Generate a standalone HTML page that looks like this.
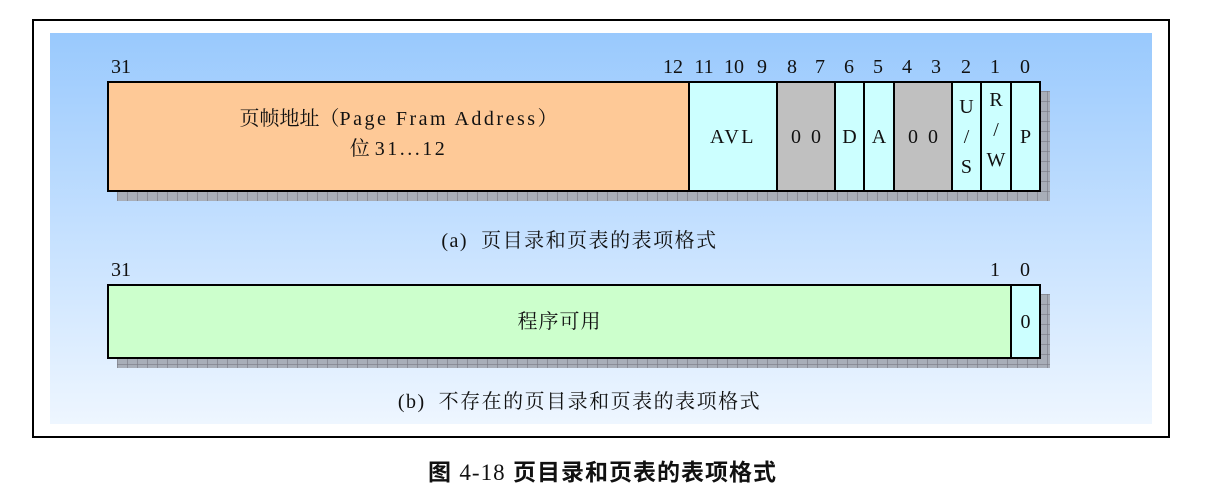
<!DOCTYPE html>
<html><head><meta charset="utf-8"><style>
body{margin:0;width:1205px;height:502px;background:#fff;position:relative;overflow:hidden;font-family:"Liberation Serif","Noto Serif CJK SC",serif;color:#111}
.a{position:absolute;box-sizing:border-box}
.frame{left:32px;top:19px;width:1138px;height:419px;border:2px solid #000}
.bg{left:50px;top:33px;width:1102px;height:391px;background:linear-gradient(#99c9fd 0%,#c4e0ff 50%,#eef6ff 100%)}
.sh{background-color:#a8aeb8;background-image:linear-gradient(90deg,rgba(120,120,130,.6) 1px,transparent 1px),linear-gradient(rgba(120,120,130,.6) 1px,transparent 1px);background-size:10px 10px}
.c{position:absolute;box-sizing:border-box;border:2px solid #000;display:flex;align-items:center;justify-content:center;text-align:center;font-size:20px;line-height:24px}
.n{position:absolute;font-size:20px;transform:translateX(-50%);top:56px}
.cap{position:absolute;font-size:20px;width:1205px;text-align:center;letter-spacing:1.5px}
.l{letter-spacing:2.5px}
</style></head><body>
<div class="a frame"></div>
<div class="a bg"></div>
<div class="a sh" style="left:117px;top:91px;width:933px;height:110px"></div>
<div class="a sh" style="left:117px;top:294px;width:933px;height:74px"></div>
<div class="c" style="left:107px;top:81px;width:583px;height:111px;background:#fec997;line-height:30px;padding-bottom:6px"><div>页帧地址（<span class="l">Page Fram Address</span>）<br>位 <span class="l">31...12</span></div></div>
<div class="c l" style="left:688px;top:81px;width:90px;height:111px;background:#ccffff">AVL</div>
<div class="c" style="left:776px;top:81px;width:60px;height:111px;background:#c0c0c0">0&nbsp; 0</div>
<div class="c" style="left:834px;top:81px;width:31px;height:111px;background:#ccffff">D</div>
<div class="c" style="left:863px;top:81px;width:32px;height:111px;background:#ccffff">A</div>
<div class="c" style="left:893px;top:81px;width:60px;height:111px;background:#c0c0c0">0&nbsp; 0</div>
<div class="c" style="left:951px;top:81px;width:31px;height:111px;background:#ccffff;line-height:30px">U<br>/<br>S</div>
<div class="c" style="left:980px;top:81px;width:32px;height:111px;background:#ccffff;line-height:30px;padding-bottom:14px">R<br>/<br>W</div>
<div class="c" style="left:1010px;top:81px;width:31px;height:111px;background:#ccffff">P</div>
<div class="c" style="left:107px;top:284px;width:905px;height:75px;background:#ccffcc;letter-spacing:1px">程序可用</div>
<div class="c" style="left:1010px;top:284px;width:31px;height:75px;background:#ccffff">0</div>
<div class="n" style="left:121px">31</div>
<div class="n" style="left:673px">12</div>
<div class="n" style="left:704px">11</div>
<div class="n" style="left:734px">10</div>
<div class="n" style="left:762px">9</div>
<div class="n" style="left:792px">8</div>
<div class="n" style="left:820px">7</div>
<div class="n" style="left:849px">6</div>
<div class="n" style="left:878px">5</div>
<div class="n" style="left:907px">4</div>
<div class="n" style="left:936px">3</div>
<div class="n" style="left:966px">2</div>
<div class="n" style="left:995px">1</div>
<div class="n" style="left:1025px">0</div>
<div class="n" style="left:121px;top:259px">31</div>
<div class="n" style="left:995px;top:259px">1</div>
<div class="n" style="left:1025px;top:259px">0</div>
<div class="cap" style="left:-23px;top:224px">(a)&nbsp; 页目录和页表的表项格式</div>
<div class="cap" style="left:-23px;top:385px">(b)&nbsp; 不存在的页目录和页表的表项格式</div>
<div class="cap" style="left:0px;top:453px;font-size:23px;letter-spacing:1px;font-family:'Liberation Sans','Noto Sans CJK SC',sans-serif;font-weight:bold">图 <span style="font-weight:normal;font-family:'Liberation Serif',serif;letter-spacing:1px">4-18</span> 页目录和页表的表项格式</div>
</body></html>
